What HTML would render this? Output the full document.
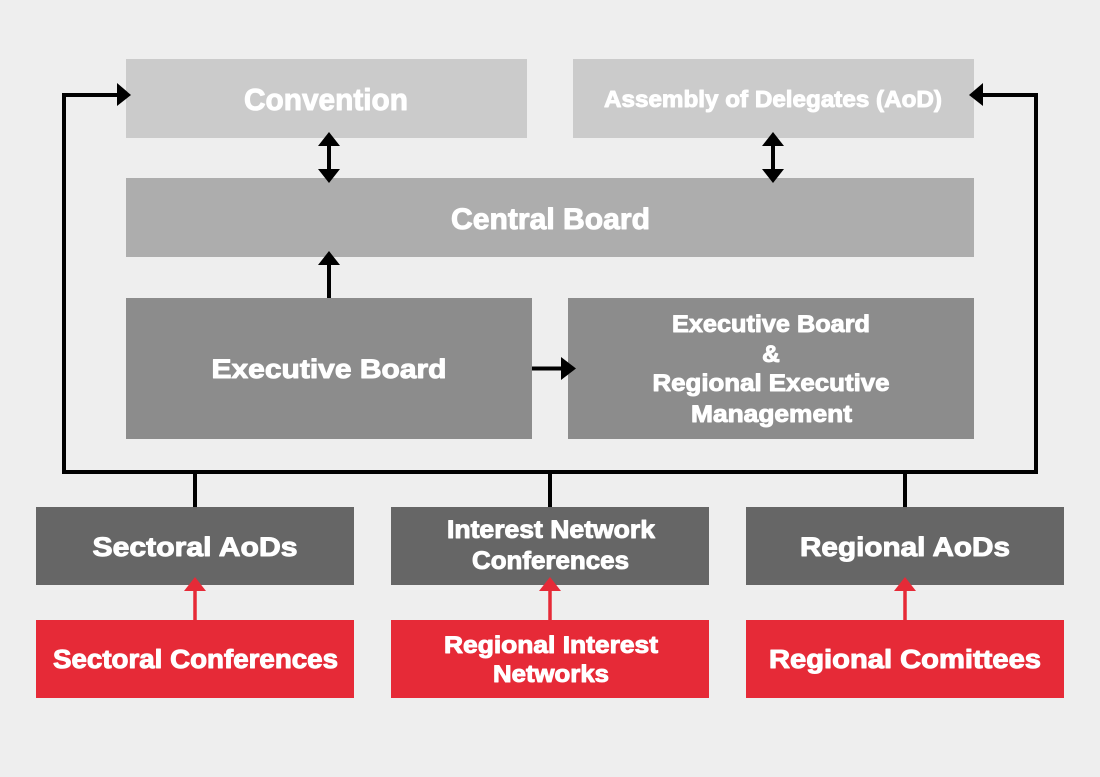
<!DOCTYPE html>
<html>
<head>
<meta charset="utf-8">
<style>
  html, body { margin: 0; padding: 0; background: #eeeeee; }
  svg { display: block; }
  text { font-family: "Liberation Sans", Arial, sans-serif; font-weight: bold; fill: #ffffff; stroke: #ffffff; stroke-width: 1; stroke-linejoin: round; text-anchor: middle; }
</style>
</head>
<body>
<svg width="1100" height="777" viewBox="0 0 1100 777" xmlns="http://www.w3.org/2000/svg">
  <rect x="0" y="0" width="1100" height="777" fill="#eeeeee"/>

  <!-- Top row -->
  <rect x="126" y="59" width="401" height="79" fill="#cbcbcb"/>
  <rect x="573" y="59" width="401" height="79" fill="#cbcbcb"/>
  <!-- Central board -->
  <rect x="126" y="178" width="848" height="79" fill="#adadad"/>
  <!-- Executive boxes -->
  <rect x="126" y="298" width="406" height="141" fill="#8c8c8c"/>
  <rect x="568" y="298" width="406" height="141" fill="#8c8c8c"/>
  <!-- Bottom dark -->
  <rect x="36" y="507" width="318" height="78" fill="#666666"/>
  <rect x="391" y="507" width="318" height="78" fill="#666666"/>
  <rect x="746" y="507" width="318" height="78" fill="#666666"/>
  <!-- Red -->
  <rect x="36" y="620" width="318" height="78" fill="#e62a37"/>
  <rect x="391" y="620" width="318" height="78" fill="#e62a37"/>
  <rect x="746" y="620" width="318" height="78" fill="#e62a37"/>

  <!-- Frame connectors -->
  <g fill="none" stroke="#000" stroke-width="4" stroke-linejoin="miter">
    <polyline points="119,95 64,95 64,472 1036,472 1036,95 981,95"/>
    <line x1="195" y1="472" x2="195" y2="507"/>
    <line x1="550" y1="472" x2="550" y2="507"/>
    <line x1="905" y1="472" x2="905" y2="507"/>
    <!-- double arrows -->
    <line x1="329" y1="144" x2="329" y2="171"/>
    <line x1="773" y1="144" x2="773" y2="171"/>
    <!-- up arrow exec->central -->
    <line x1="329" y1="298" x2="329" y2="262"/>
    <!-- exec -> erm -->
    <line x1="532" y1="368.5" x2="563" y2="368.5"/>
  </g>
  <g fill="#000">
    <polygon points="117,83 131,95 117,106"/>
    <polygon points="983,83 969,95 983,106"/>
    <polygon points="318,146 329,132 340,146"/>
    <polygon points="318,169 329,183 340,169"/>
    <polygon points="762,146 773,132 784,146"/>
    <polygon points="762,169 773,183 784,169"/>
    <polygon points="318,265 329,251 340,265"/>
    <polygon points="561,357 576,368.5 561,380"/>
  </g>

  <!-- Red arrows -->
  <g stroke="#e62a37" stroke-width="3.5">
    <line x1="195" y1="620" x2="195" y2="589"/>
    <line x1="550" y1="620" x2="550" y2="589"/>
    <line x1="905" y1="620" x2="905" y2="589"/>
  </g>
  <g fill="#e62a37">
    <polygon points="184,591 195,577 206,591"/>
    <polygon points="539,591 550,577 561,591"/>
    <polygon points="894,591 905,577 916,591"/>
  </g>

  <!-- Labels -->
  <text x="326" y="110" font-size="31" textLength="164" lengthAdjust="spacingAndGlyphs">Convention</text>
  <text x="773" y="107" font-size="23.5" textLength="338" lengthAdjust="spacingAndGlyphs">Assembly of Delegates (AoD)</text>
  <text x="550.5" y="229" font-size="29.5" textLength="199" lengthAdjust="spacingAndGlyphs">Central Board</text>
  <text x="329" y="378" font-size="27" textLength="235" lengthAdjust="spacingAndGlyphs">Executive Board</text>

  <text x="771" y="332" font-size="24.5" textLength="198" lengthAdjust="spacingAndGlyphs">Executive Board</text>
  <text x="771" y="362" font-size="24.5">&amp;</text>
  <text x="771" y="391" font-size="24.5" textLength="237" lengthAdjust="spacingAndGlyphs">Regional Executive</text>
  <text x="771.5" y="422" font-size="24.5" textLength="161" lengthAdjust="spacingAndGlyphs">Management</text>

  <text x="195" y="556" font-size="27" textLength="205" lengthAdjust="spacingAndGlyphs">Sectoral AoDs</text>
  <text x="551" y="538" font-size="25" textLength="208" lengthAdjust="spacingAndGlyphs">Interest Network</text>
  <text x="550.5" y="569" font-size="25" textLength="157" lengthAdjust="spacingAndGlyphs">Conferences</text>
  <text x="905" y="556" font-size="27" textLength="210" lengthAdjust="spacingAndGlyphs">Regional AoDs</text>

  <text x="195.5" y="668" font-size="25.5" textLength="285" lengthAdjust="spacingAndGlyphs">Sectoral Conferences</text>
  <text x="551" y="653" font-size="24" textLength="214" lengthAdjust="spacingAndGlyphs">Regional Interest</text>
  <text x="551" y="682" font-size="24" textLength="116" lengthAdjust="spacingAndGlyphs">Networks</text>
  <text x="905" y="668" font-size="25.5" textLength="272" lengthAdjust="spacingAndGlyphs">Regional Comittees</text>
</svg>
</body>
</html>
